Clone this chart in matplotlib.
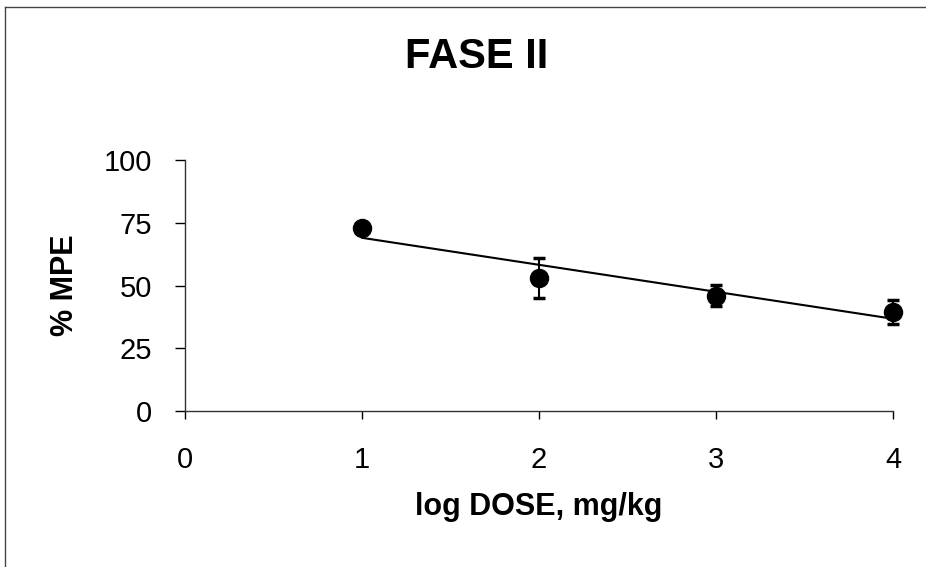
import numpy as np
import matplotlib
matplotlib.use('Agg')
import matplotlib.pyplot as plt
from matplotlib.lines import Line2D

# data
dose = [1, 2, 3, 4]
mpe = [73.0, 53.0, 46.0, 39.5]
err = [0.5, 8.0, 4.2, 4.8]
xticks = [0, 1, 2, 3, 4]
yticks = [0, 25, 50, 75, 100]

plt.rcParams['font.family'] = ['Liberation Sans', 'DejaVu Sans']

fig = plt.figure(figsize=(9.26, 5.67), dpi=100)
ax = fig.add_axes([0.1998, 0.2751, 0.7646, 0.4427])

# linear fit through the means
k, b = np.polyfit(dose, mpe, 1)
xf = np.array([dose[0], dose[-1]])
ax.plot(xf, k * xf + b, color='black', lw=1.5, zorder=2, clip_on=False)

eb = ax.errorbar(dose, mpe, yerr=err, fmt='o', color='black', ms=13,
                 elinewidth=1.5, capsize=4.5, capthick=2.5, zorder=3)
for a in eb.lines[0:1] + tuple(eb.lines[1]) + tuple(eb.lines[2]):
    a.set_clip_on(False)

ax.set_xlim(0, 4)
ax.set_ylim(0, 100)
ax.set_xticks(xticks)
ax.set_yticks(yticks)
for s in ['top', 'right']:
    ax.spines[s].set_visible(False)
for s in ['left', 'bottom']:
    ax.spines[s].set_color('#333333')
    ax.spines[s].set_linewidth(1)
ax.tick_params(axis='y', direction='out', length=7, width=1, pad=16.5, labelsize=21)
ax.tick_params(axis='x', direction='out', length=6, width=1, pad=19.5, labelsize=21)
ax.set_xlabel('log DOSE, mg/kg', fontsize=22, fontweight='bold', labelpad=13)
ax.set_ylabel('% MPE', fontsize=22, fontweight='bold', labelpad=17)

fig.text(477 / 926, 1 - 57 / 567, 'FASE II', fontsize=30, fontweight='bold',
         ha='center', va='center')

# outer frame (top and left edges visible)
fig.add_artist(Line2D([5 / 926, 5 / 926], [0, 1 - 7 / 567], transform=fig.transFigure,
                      color='#444444', lw=1))
fig.add_artist(Line2D([5 / 926, 1], [1 - 7 / 567, 1 - 7 / 567], transform=fig.transFigure,
                      color='#444444', lw=1))

fig.savefig('out.png', dpi=100)
